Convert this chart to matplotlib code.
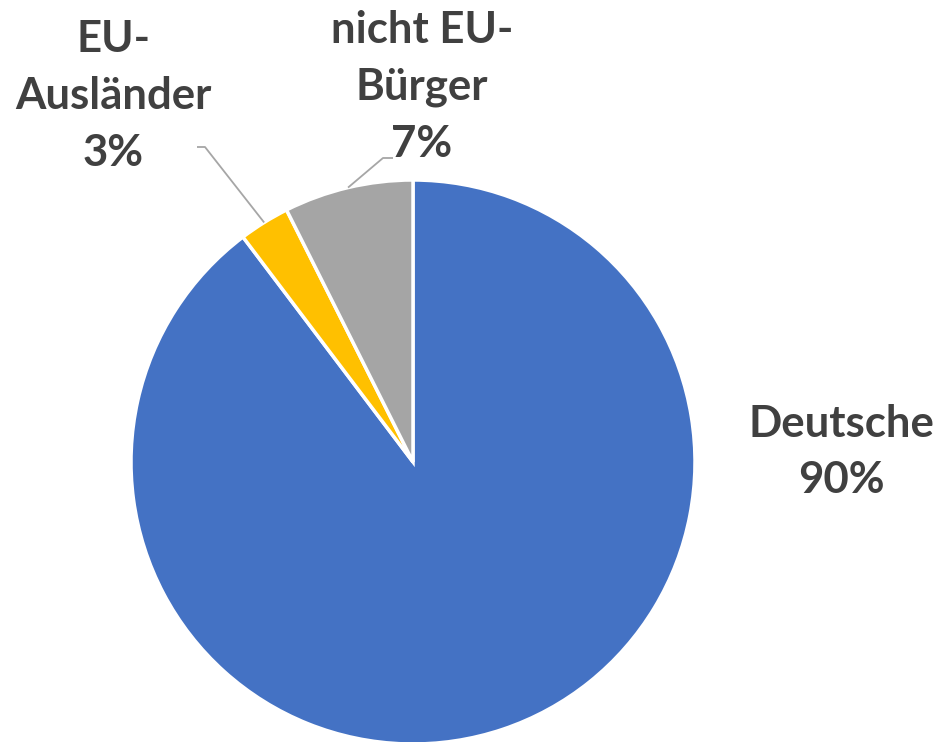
import numpy as np
import matplotlib
matplotlib.use("Agg")
import matplotlib.pyplot as plt

categories = ["Deutsche", "EU-\nAusländer", "nicht EU-\nBürger"]
values = [89.7, 2.9, 7.4]
colors = ["#4472C4", "#FFC000", "#A5A5A5"]

W, H = 940, 742
fig = plt.figure(figsize=(W / 100, H / 100), dpi=100)
ax = fig.add_axes([0, 0, 1, 1])

cx, cy, R = 413, H - 462, 282
wedges, _ = ax.pie(values, colors=colors, startangle=90, counterclock=False,
                   center=(cx, cy), radius=R, frame=True,
                   wedgeprops=dict(edgecolor="white", linewidth=2.5))
ax.set_xlim(0, W)
ax.set_ylim(0, H)
ax.axis("off")

txt_color = "#404040"
font = dict(family=["Lato", "DejaVu Sans"], fontweight="bold", fontsize=31.5,
            color=txt_color, ha="center", va="center", linespacing=1.5)

label_pos = [(841, H - 452), (113, H - 96), (422, H - 87)]
for cat, v, (tx, ty) in zip(categories, values, label_pos):
    ax.text(tx, ty, f"{cat}\n{round(v):.0f}%", **font)

# leader lines for small slices
leader_starts = [None, (197, H - 147), (393, H - 158)]
for w, ls in zip(wedges, leader_starts):
    if ls is None:
        continue
    mid = np.deg2rad((w.theta1 + w.theta2) / 2)
    ex, ey = cx + R * np.cos(mid), cy + R * np.sin(mid)
    kx = ls[0] + 8 if ls[0] < ex else ls[0] - 10
    ax.plot([ls[0], kx, ex], [ls[1], ls[1], ey], color="#A6A6A6", lw=1.3,
            solid_capstyle="butt")

fig.savefig("out.png", dpi=100, facecolor="white")
